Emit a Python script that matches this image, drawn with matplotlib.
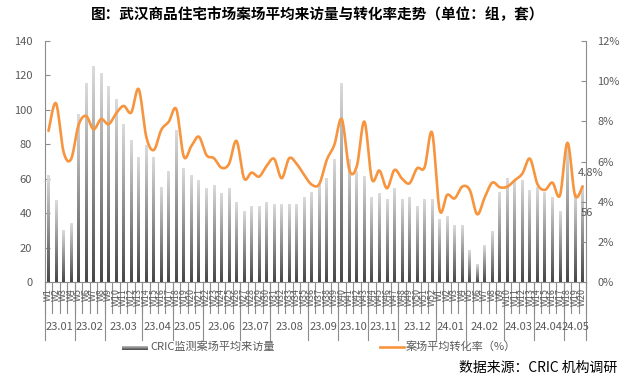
import numpy as np
import matplotlib
matplotlib.use("Agg")
import matplotlib.pyplot as plt
from matplotlib import transforms
from matplotlib.colors import LinearSegmentedColormap
from matplotlib.ticker import FuncFormatter

plt.rcParams['font.family'] = ['Noto Sans CJK SC', 'DejaVu Sans']

# ---------------- data ----------------
months = ["23.01", "23.02", "23.03", "23.04", "23.05", "23.06", "23.07", "23.08",
          "23.09", "23.10", "23.11", "23.12", "24.01", "24.02", "24.03", "24.04", "24.05"]
weeks_per_month = [4, 4, 5, 4, 4, 5, 4, 5, 4, 4, 4, 5, 4, 5, 4, 4, 3]
week_labels = [f"W{i}" for i in range(1, 53)] + [f"W{i}" for i in range(1, 21)]

visits = [62, 47, 30, 34, 97, 115, 125, 121, 113, 106, 91, 82,
          72, 79, 72, 55, 64, 88, 66, 62, 59, 54, 56, 51,
          54, 46, 41, 44, 44, 46, 45, 45, 45, 45, 49, 52,
          57, 60, 71, 115, 71, 64, 61, 49, 51, 48, 54, 48,
          49, 44, 48, 48, 36, 38, 33, 33, 18, 10, 21, 29,
          52, 60, 59, 59, 53, 55, 52, 49, 41, 78, 51, 56]

conv = [7.52, 8.89, 6.49, 6.11, 7.81, 8.26, 7.60, 8.11, 7.85, 8.39, 8.76, 8.43,
        9.59, 7.23, 6.57, 7.57, 7.98, 8.59, 6.24, 6.77, 7.23, 6.32, 6.16, 5.69,
        5.88, 7.02, 5.17, 5.45, 5.25, 5.78, 6.13, 5.17, 6.16, 5.88, 5.33, 4.85,
        4.88, 6.08, 6.82, 8.10, 5.58, 5.78, 7.98, 5.12, 5.55, 4.67, 5.58, 5.15,
        4.92, 5.66, 5.71, 7.43, 3.59, 4.34, 4.17, 4.75, 4.59, 3.38, 4.22, 4.95,
        4.72, 4.75, 5.07, 5.40, 6.14, 4.88, 4.59, 4.95, 4.32, 6.93, 4.32, 4.75]

title = "图：武汉商品住宅市场案场平均来访量与转化率走势（单位：组，套）"
bar_name = "CRIC监测案场平均来访量"
line_name = "案场平均转化率（%）"
source = "数据来源：CRIC 机构调研"

# ---------------- style ----------------
axis_col = "#8c8c8c"
txt_col = "#595959"
line_col = "#F7943E"

W, H = 637, 380
fig = plt.figure(figsize=(W / 100, H / 100), dpi=100)
L, R, T, B = 44.7, 586.3, 40.7, 282.3
ax = fig.add_axes([L / W, (H - B) / H, (R - L) / W, (B - T) / H])

n = len(visits)
x = np.arange(n)
bw = 0.38

cmap = LinearSegmentedColormap.from_list("g", ["#474747", "#dcdcdc"])
grad = np.linspace(1, 0, 256).reshape(-1, 1)
bars = ax.bar(x, visits, width=bw, color="none", edgecolor="none")
for b in bars:
    x0 = b.get_x()
    ax.imshow(grad, cmap=cmap, aspect="auto", origin="upper",
              extent=(x0, x0 + b.get_width(), 0, b.get_height()), zorder=2)

ax.set_xlim(-0.5, n - 0.5)
ax.set_ylim(0, 140)
ax.set_yticks(np.arange(0, 141, 20))
ax.set_xticks([])
ax.tick_params(axis="y", direction="in", length=3.5, width=0.8, color=axis_col,
               labelsize=8, labelcolor=txt_col, pad=9)
for s in ["top", "right"]:
    ax.spines[s].set_visible(False)
for s in ["left", "bottom"]:
    ax.spines[s].set_color(axis_col)
    ax.spines[s].set_linewidth(0.8)

# ---- smoothed line (Bezier through the data points) ----
def smooth(xv, yv, k=16):
    xv = np.asarray(xv, float)
    yv = np.asarray(yv, float)
    P = np.column_stack([xv, yv])
    P = np.vstack([P[0], P, P[-1]])
    t = np.linspace(0, 1, k, endpoint=False)[:, None]
    out = []
    for i in range(len(xv) - 1):
        p0, p1, p2, p3 = P[i], P[i + 1], P[i + 2], P[i + 3]
        c1 = p1 + (p2 - p0) / 6
        c2 = p2 - (p3 - p1) / 6
        seg = ((1 - t) ** 3) * p1 + 3 * ((1 - t) ** 2) * t * c1 + 3 * (1 - t) * t ** 2 * c2 + t ** 3 * p2
        out.append(seg)
    out.append(P[-2][None, :])
    out = np.vstack(out)
    return out[:, 0], out[:, 1]

ax2 = ax.twinx()
ax2.set_position(ax.get_position())
sx, sy = smooth(x, conv)
ax2.plot(sx, sy, color=line_col, lw=1.9, solid_capstyle="round", zorder=3)
ax2.set_ylim(0, 12)
ax2.set_yticks(np.arange(0, 13, 2))
ax2.yaxis.set_major_formatter(FuncFormatter(lambda v, p: f"{v:.0f}%"))
ax2.tick_params(axis="y", direction="in", length=3.5, width=0.8, color=axis_col,
                labelsize=8, labelcolor=txt_col, pad=8)
for s in ["top", "left", "bottom"]:
    ax2.spines[s].set_visible(False)
ax2.spines["right"].set_color(axis_col)
ax2.spines["right"].set_linewidth(0.8)
ax2.set_xlim(-0.5, n - 0.5)

# data labels for the last week
ax2.annotate(f"{conv[-1]:.1f}%", xy=(x[-1], conv[-1]), xytext=(8, 13.5),
             textcoords="offset pixels", ha="center", va="center",
             fontsize=8, color=txt_col)
ax.annotate(f"{visits[-1]}", xy=(x[-1], visits[-1]), xytext=(4.5, -27),
            textcoords="offset pixels", ha="center", va="center",
            fontsize=8, color=txt_col)

# ---- two-level category axis ----
trans = transforms.blended_transform_factory(ax.transData, ax.transAxes)
ax_h = B - T
def fy(py):
    return (B - py) / ax_h

bounds = np.arange(n + 1) - 0.5
for bx in bounds:
    ax.plot([bx, bx], [0, fy(313)], transform=trans, clip_on=False,
            color=axis_col, lw=0.8)
for i, lab in enumerate(week_labels):
    ax.text(i, fy(288), lab, transform=trans, rotation=90, ha="center", va="top",
            fontsize=6.5, color=txt_col, clip_on=False)

mb = np.concatenate([[0], np.cumsum(weeks_per_month)]) - 0.5
for bx in mb:
    ax.plot([bx, bx], [0, fy(340)], transform=trans, clip_on=False,
            color=axis_col, lw=0.8)
for i, m in enumerate(months):
    cx = (mb[i] + mb[i + 1]) / 2
    ax.text(cx, fy(327), m, transform=trans, ha="center", va="center",
            fontsize=8, color=txt_col, clip_on=False)

# ---- title ----
fig.text(317.5 / W, 1 - 14 / H, title, ha="center", va="center",
         fontsize=10.5, fontweight="bold", color="#000000")

# ---- legend ----
lax = fig.add_axes([122 / W, 1 - 349.5 / H, 26 / W, 4 / H])
lax.imshow(np.linspace(1, 0, 32).reshape(-1, 1), cmap=cmap, aspect="auto")
lax.axis("off")
fig.text(150 / W, 1 - 347 / H, bar_name, ha="left", va="center",
         fontsize=8, color=txt_col)
fig.lines.append(plt.Line2D([380 / W, 404 / W], [1 - 347 / H, 1 - 347 / H],
                            transform=fig.transFigure, color=line_col, lw=1.9))
fig.text(406 / W, 1 - 347 / H, line_name, ha="left", va="center",
         fontsize=8, color=txt_col)

# ---- source ----
fig.text(617 / W, 1 - 368 / H, source, ha="right", va="center",
         fontsize=10, color="#000000")

fig.savefig("out.png", dpi=100)
